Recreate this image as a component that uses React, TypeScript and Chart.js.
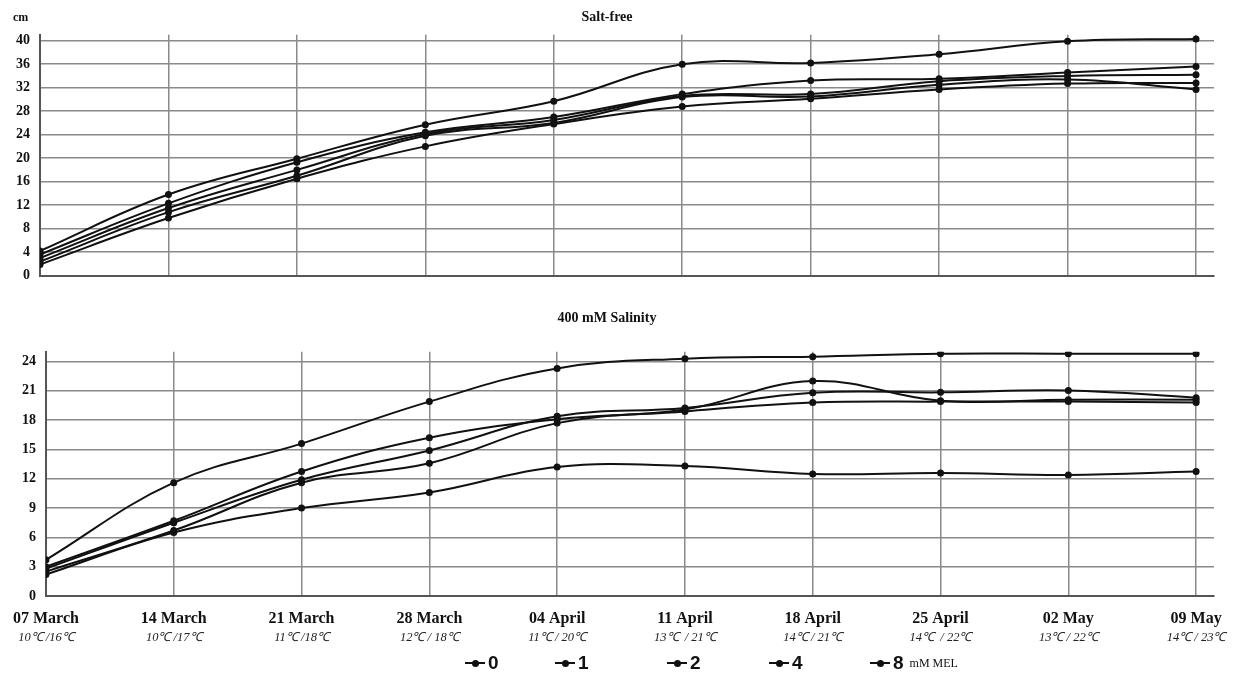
import React, { useEffect, useRef } from 'react';
import { Chart, registerables } from 'chart.js';

Chart.register(...registerables);

const dateLabels = ['07 March', '14 March', '21 March', '28 March', '04 April', '11 April', '18 April', '25 April', '02 May', '09 May'];
const tempLabels = ['10℃ /16℃', '10℃ /17℃', '11℃ /18℃', '12℃ / 18℃', '11℃ / 20℃', '13℃  / 21℃', '14℃ / 21℃', '14℃  / 22℃', '13℃ / 22℃', '14℃ / 23℃'];
const seriesNames = ['0', '1', '2', '4', '8'];
const unitLabel = 'cm';
const topTitle = 'Salt-free';
const bottomTitle = '400 mM Salinity';
const legendSuffix = 'mM MEL';

// Salt-free (cm)
const saltFree8 = [4.2, 13.8, 19.9, 25.7, 29.7, 36.0, 36.2, 37.7, 39.9, 40.3];
const saltFree4 = [3.6, 12.3, 19.3, 24.4, 27.0, 30.9, 33.2, 33.5, 34.6, 35.6];
const saltFree2 = [3.0, 11.5, 18.0, 24.1, 26.5, 30.6, 30.9, 33.1, 34.0, 34.2];
const saltFree1 = [2.4, 10.8, 17.0, 23.8, 26.0, 30.4, 30.5, 32.5, 33.4, 31.7];
const saltFree0 = [1.9, 9.8, 16.5, 22.0, 25.8, 28.8, 30.1, 31.7, 32.7, 32.8];

// 400 mM salinity (cm)
const salt8 = [3.7, 11.6, 15.6, 19.9, 23.3, 24.3, 24.5, 24.8, 24.8, 24.8];
const salt4 = [3.0, 7.7, 12.75, 16.2, 18.1, 19.1, 22.0, 20.0, 20.1, 20.1];
const salt2 = [2.8, 7.5, 11.9, 14.9, 18.4, 19.25, 20.8, 20.85, 21.05, 20.3];
const salt1 = [2.5, 6.7, 11.6, 13.6, 17.7, 18.9, 19.8, 19.9, 19.9, 19.8];
const salt0 = [2.2, 6.5, 9.0, 10.6, 13.2, 13.3, 12.5, 12.6, 12.4, 12.75];

const topSeries = [saltFree0, saltFree1, saltFree2, saltFree4, saltFree8];
const bottomSeries = [salt0, salt1, salt2, salt4, salt8];

const SERIF = '"Times New Roman", "Liberation Serif", serif';
const GRID = '#8a8a8a';

function makeDatasets(series: number[][]) {
  return series.map((vals, si) => ({
    label: seriesNames[si],
    data: vals.map((v, i) => ({ x: i, y: v })),
    borderColor: '#111',
    backgroundColor: '#111',
    borderWidth: 2,
    pointRadius: 3.5,
    pointBackgroundColor: '#111',
    pointBorderWidth: 0,
    tension: 0.4,
    fill: false,
    xAxisID: 'x',
  }));
}

function setIntTicks(scale: any) {
  scale.ticks = dateLabels.map((_, i) => ({ value: i }));
}

function buildConfig(kind: 'top' | 'bottom'): any {
  const isTop = kind === 'top';
  const yMax = isTop ? 41 : 25;
  const yLimit = isTop ? 40 : 24;
  const step = isTop ? 4 : 3;
  const yWidth = isTop ? 40 : 43;
  const scales: any = {
    x: {
      type: 'linear',
      min: 0,
      max: 9.14,
      weight: 0,
      afterBuildTicks: setIntTicks,
      afterFit: (scale: any) => {
        if (!isTop) scale.height = 31;
      },
      grid: { color: GRID, lineWidth: 1.5, drawTicks: false },
      border: { color: '#555', width: 2 },
      ticks: {
        display: !isTop,
        padding: 13,
        color: '#111',
        maxRotation: 0,
        autoSkip: false,
        font: { family: SERIF, size: 16, weight: 'bold' },
        callback: (v: number) => dateLabels[v] ?? '',
      },
    },
    y: {
      min: 0,
      max: yMax,
      afterBuildTicks: (scale: any) => {
        const t: any[] = [];
        for (let v = 0; v <= yLimit; v += step) t.push({ value: v });
        scale.ticks = t;
      },
      afterFit: (scale: any) => {
        scale.width = yWidth;
      },
      grid: { color: GRID, lineWidth: 1.5, drawTicks: false },
      border: { color: '#555', width: 2 },
      ticks: {
        stepSize: step,
        padding: 10,
        color: '#111',
        font: { family: SERIF, size: 14, weight: 'bold' },
      },
    },
  };
  if (!isTop) {
    scales.x2 = {
      type: 'linear',
      position: 'bottom',
      min: 0,
      max: 9.14,
      weight: 1,
      afterBuildTicks: setIntTicks,
      afterFit: (scale: any) => {
        scale.height = 20;
      },
      grid: { display: false, drawTicks: false },
      border: { display: false },
      ticks: {
        padding: 3,
        color: '#222',
        maxRotation: 0,
        autoSkip: false,
        font: { family: SERIF, size: 12.5, style: 'italic' },
        callback: (v: number) => tempLabels[v] ?? '',
      },
    };
  }
  return {
    type: 'line',
    data: { datasets: makeDatasets(isTop ? topSeries : bottomSeries) },
    options: {
      animation: false,
      responsive: false,
      layout: { padding: isTop ? { left: 0, right: 35, top: 0, bottom: 10 } : { left: 0, right: 35, top: 0, bottom: 5 } },
      plugins: {
        legend: { display: false },
        tooltip: { enabled: false },
        title: {
          display: true,
          text: isTop ? topTitle : bottomTitle,
          color: '#111',
          font: { family: SERIF, size: 14, weight: 'bold' },
          padding: isTop ? { top: 9, bottom: 9 } : { top: 10, bottom: 25 },
        },
      },
      scales,
    },
    plugins: isTop
      ? [
          {
            id: 'unitLabel',
            afterDraw(chart: any) {
              const ctx = chart.ctx;
              ctx.save();
              ctx.font = `bold 12px ${SERIF}`;
              ctx.fillStyle = '#111';
              ctx.textBaseline = 'alphabetic';
              ctx.fillText(unitLabel, 13, 21);
              ctx.restore();
            },
          },
        ]
      : [],
  };
}

function LegendMarker() {
  return (
    <span style={{ position: 'relative', display: 'inline-block', width: 20, height: 2, background: '#111', marginRight: 3, verticalAlign: 'middle' }}>
      <span style={{ position: 'absolute', left: 7, top: -2.5, width: 7, height: 7, borderRadius: '50%', background: '#111' }} />
    </span>
  );
}

const legendLefts = [465, 555, 667, 769, 870];

export default function App() {
  const topRef = useRef<HTMLCanvasElement>(null);
  const bottomRef = useRef<HTMLCanvasElement>(null);

  useEffect(() => {
    const c1 = new Chart(topRef.current as HTMLCanvasElement, buildConfig('top'));
    const c2 = new Chart(bottomRef.current as HTMLCanvasElement, buildConfig('bottom'));
    return () => {
      c1.destroy();
      c2.destroy();
    };
  }, []);

  return (
    <div style={{ position: 'absolute', left: 0, top: 0, width: 1249, height: 679, background: '#fff', overflow: 'hidden' }}>
      <canvas ref={topRef} width={1249} height={294} style={{ position: 'absolute', left: 0, top: 0, display: 'block' }} />
      <canvas ref={bottomRef} width={1249} height={352} style={{ position: 'absolute', left: 0, top: 300, display: 'block' }} />
      {seriesNames.map((name, i) => (
        <div
          key={name}
          style={{
            position: 'absolute',
            left: legendLefts[i],
            top: 651,
            height: 24,
            display: 'flex',
            alignItems: 'center',
            whiteSpace: 'nowrap',
            color: '#111',
          }}
        >
          <LegendMarker />
          <span style={{ fontFamily: '"Liberation Sans", Arial, sans-serif', fontWeight: 'bold', fontSize: 19 }}>{name}</span>
          {i === seriesNames.length - 1 && (
            <span style={{ fontFamily: SERIF, fontSize: 12, marginLeft: 6 }}>{legendSuffix}</span>
          )}
        </div>
      ))}
    </div>
  );
}
